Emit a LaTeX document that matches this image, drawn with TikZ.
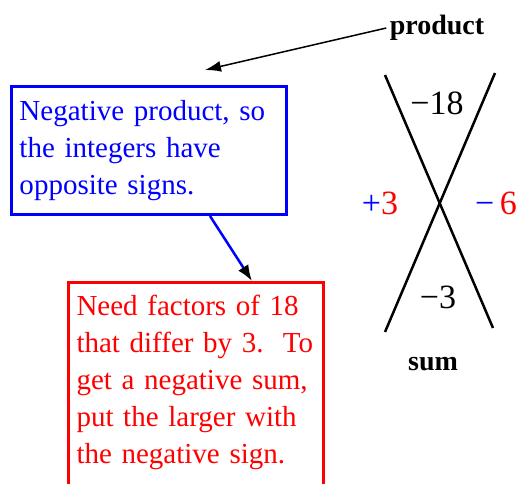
\documentclass[tikz,border=0pt]{standalone}
\usepackage{fontspec}
\setmainfont{Liberation Serif}
\usetikzlibrary{arrows.meta}

\begin{document}
\begin{tikzpicture}[x=1pt, y=-1pt, >={Latex[length=16pt,width=11pt]},
		note/.style={draw, line width=3pt, align=left, inner xsep=8pt, anchor=north west, font=\fontsize{29}{37}\selectfont},
		number/.style={font=\fontsize{34}{40}\selectfont},
		word/.style={font=\fontsize{28}{32}\selectfont\bfseries}]
			\clip (0,0) rectangle (524,483);
			\node[note, blue, text width=259pt, minimum height=128pt] (neg) at (10,85) {Negative product, so\\the integers have\\opposite signs.};
			\node[note, red, text width=239pt, inner ysep=13pt] (need) at (67,281) {Need factors of 18\\that differ by 3.~~To\\get a negative sum,\\put the larger with\\the negative sign.\par\vspace{40pt}};
			\node[word] (prod) at (437,28) {product};
			\node[word] (sum) at (433,364) {sum};
			\coordinate (prodtip) at (205,70);
			\draw[->, line width=1.5pt] (prod.west) -- (prodtip);
			\draw[blue, line width=2.5pt, -{Latex[color=black,length=16pt,width=12pt]}] ([xshift=61pt]neg.south) -- ([xshift=185pt]need.north west);
			\draw[line width=2.5pt] (385,75) -- (493,328);
			\draw[line width=2.5pt] (495,73) -- (385,332);
			\node[number] (top) at (437,103) {−18};
			\node[number] (bottom) at (438,297) {−3};
			\node[number] (left) at (380,203) {\textcolor{blue}{+}\textcolor{red}{3}};
			\node[number] (right) at (496,203) {\textcolor{blue}{−}\,\textcolor{red}{6}};
		\end{tikzpicture}
\end{document}
